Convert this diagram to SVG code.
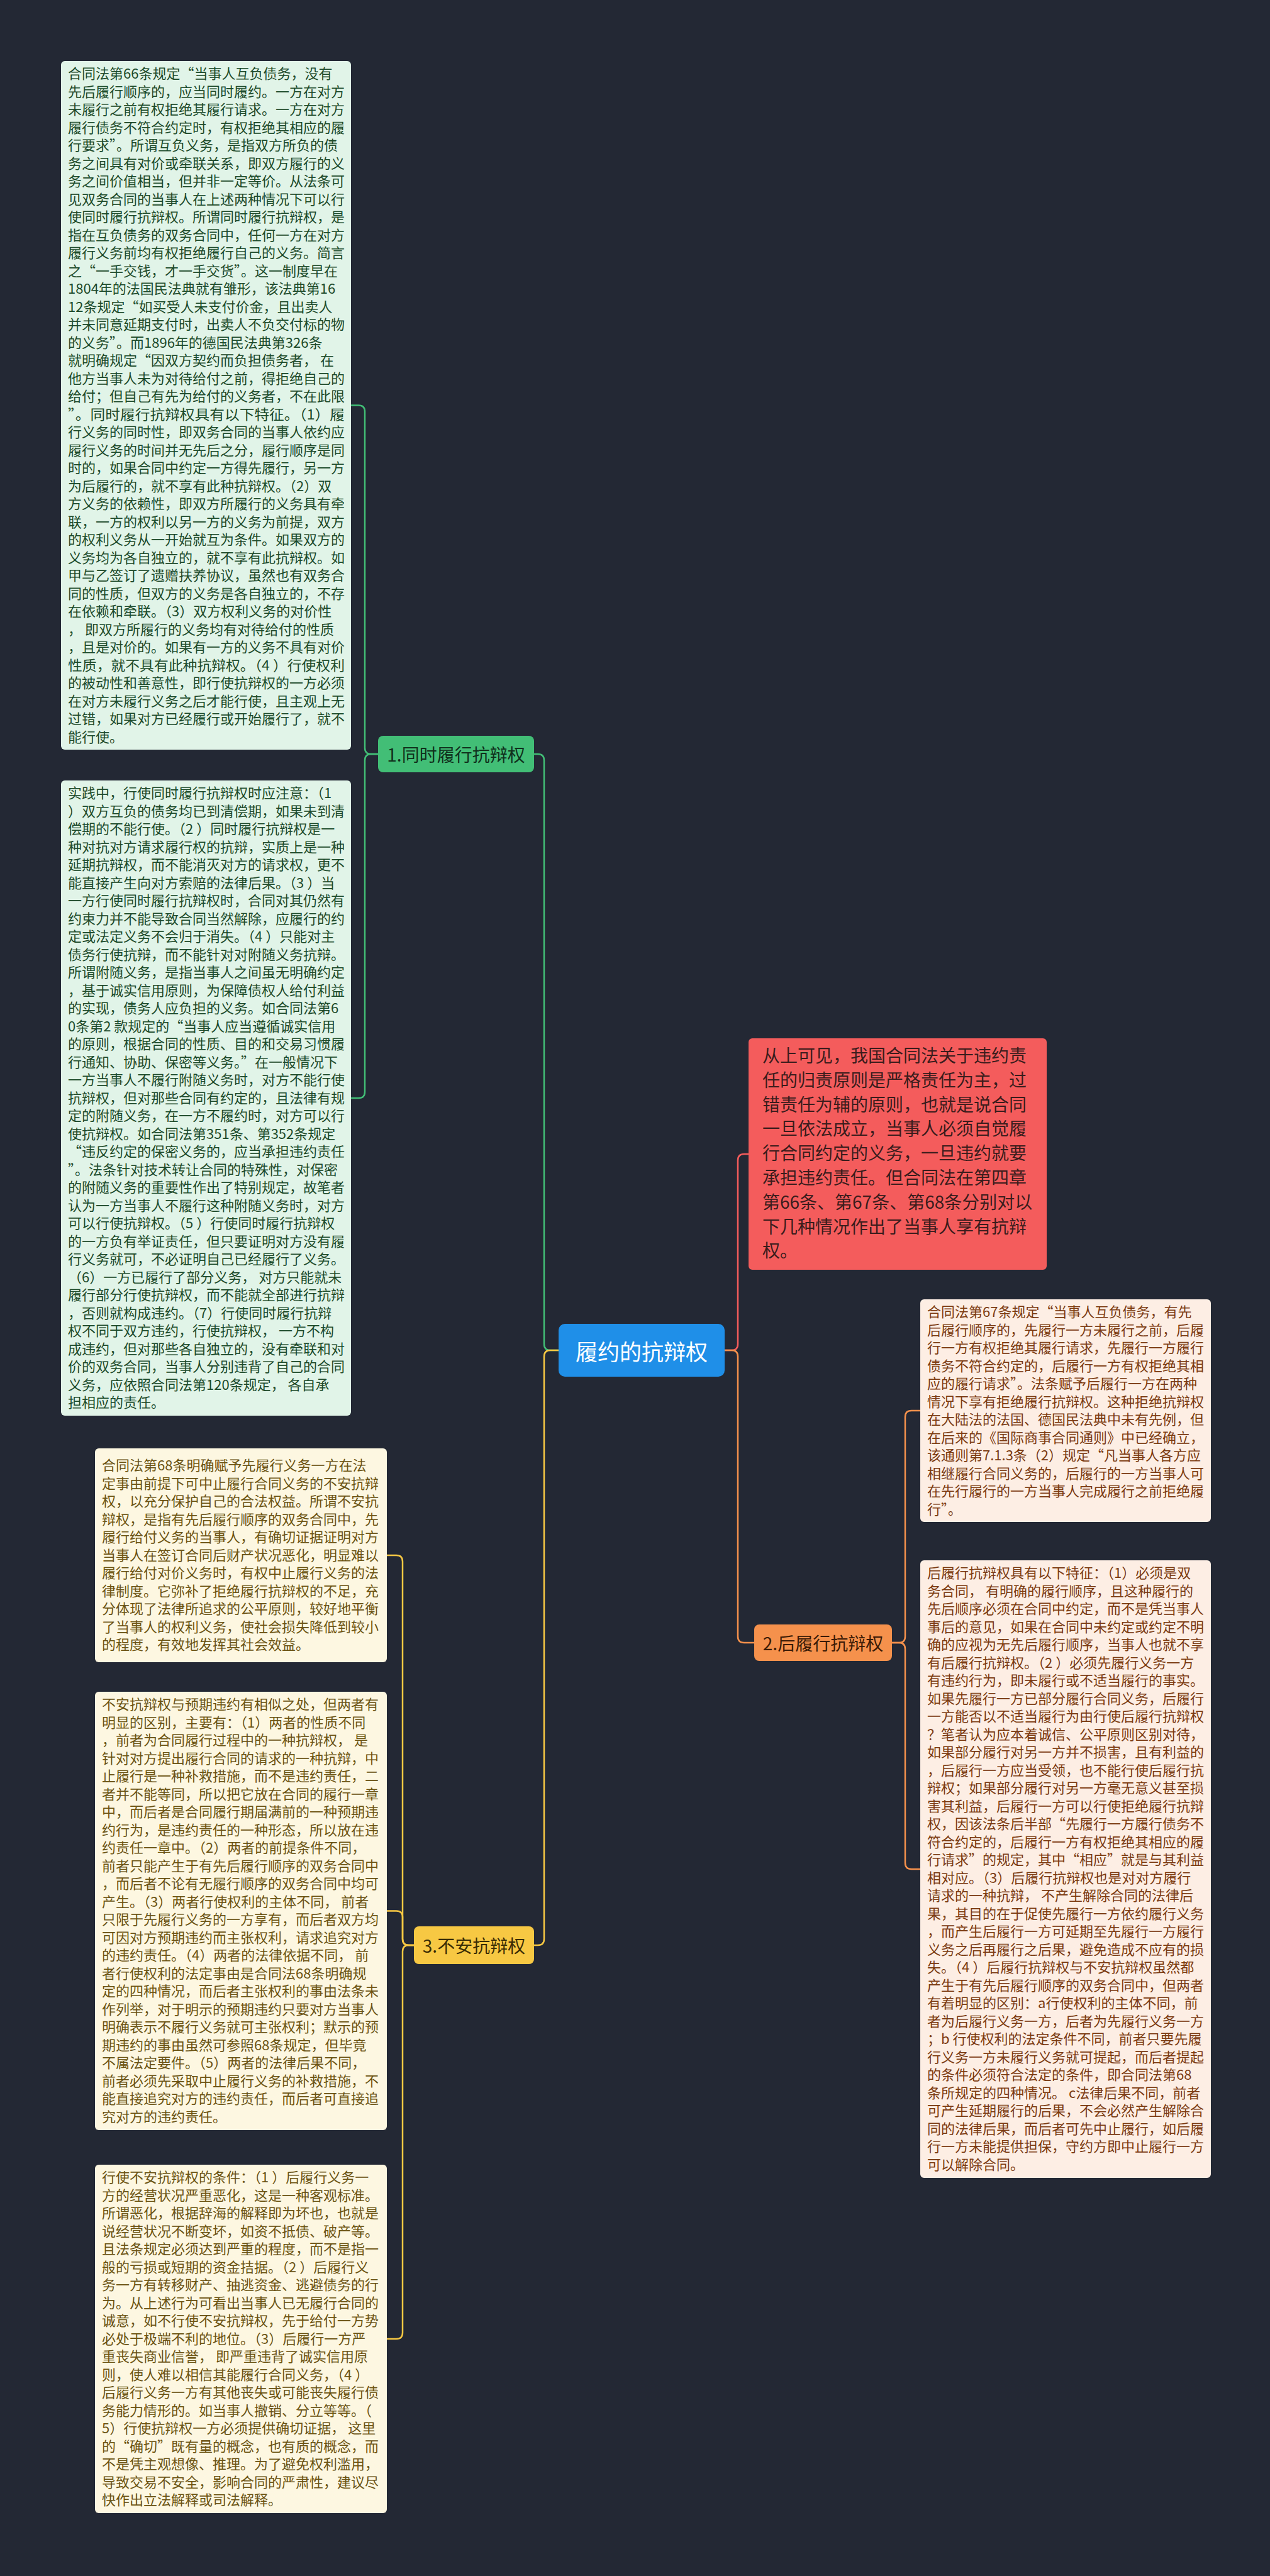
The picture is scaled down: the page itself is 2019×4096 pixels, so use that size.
<svg xmlns="http://www.w3.org/2000/svg" width="2019" height="4096" viewBox="0 0 2019 4096">
<style>
text{font-family:"Noto Sans CJK SC","Noto Sans",sans-serif;}
.tg{font-size:22px;fill:#1c4a2a;}
.to{font-size:22px;fill:#7b3a10;}
.ty{font-size:22px;fill:#6b5312;}
.tr{font-size:28px;fill:#3a1c1c;}
.bg1{fill:#e1f4e8;}
.bo{fill:#fdeee4;}
.by{fill:#fdf7e1;}
.br{fill:#f45c5c;}
.nt{font-size:28px;text-anchor:middle;dominant-baseline:central;}
.c{fill:none;stroke-width:2.5;}
</style>
<rect x="0" y="0" width="2019" height="4096" fill="#232834"/>
<g id="connectors">
<path class="c" stroke="#42be76" d="M888 2147H875Q865 2147 865 2137V1209Q865 1199 855 1199H849"/>
<path class="c" stroke="#f7c843" d="M888 2147H875Q865 2147 865 2157V3083Q865 3093 855 3093H849"/>
<path class="c" stroke="#f45c5c" d="M1152 2147H1163Q1173 2147 1173 2137V1845Q1173 1835 1183 1835H1190"/>
<path class="c" stroke="#f5914c" d="M1152 2147H1163Q1173 2147 1173 2157V2602Q1173 2612 1183 2612H1199"/>
<path class="c" stroke="#42be76" d="M601 1199H590Q580 1199 580 1189V654.5Q580 644.5 570 644.5H558"/>
<path class="c" stroke="#42be76" d="M601 1199H590Q580 1199 580 1209V1736Q580 1746 570 1746H558"/>
<path class="c" stroke="#f5914c" d="M1418 2612H1429Q1439 2612 1439 2602V2253Q1439 2243 1449 2243H1463"/>
<path class="c" stroke="#f5914c" d="M1418 2612H1429Q1439 2612 1439 2622V2962Q1439 2972 1449 2972H1463"/>
<path class="c" stroke="#f7c843" d="M658 3093H650Q640 3093 640 3083V2483Q640 2473 630 2473H615"/>
<path class="c" stroke="#f7c843" d="M658 3093H650Q640 3093 640 3083V3048.5Q640 3038.5 630 3038.5H615"/>
<path class="c" stroke="#f7c843" d="M658 3093H650Q640 3093 640 3103V3709Q640 3719 630 3719H615"/>
</g>
<g id="center">
<rect x="888" y="2105" width="264" height="84" rx="10" fill="#1f8fe8"/>
<text class="nt" x="1020" y="2147" style="font-size:35px;fill:#ffffff">履约的抗辩权</text>
</g>
<g id="node1">
<rect x="601" y="1170" width="248" height="58" rx="8" fill="#42be76"/>
<text class="nt" x="725" y="1199" fill="#10301c">1.同时履行抗辩权</text>
</g>
<g id="node2">
<rect x="1199" y="2583" width="219" height="58" rx="8" fill="#f5914c"/>
<text class="nt" x="1308.5" y="2612" fill="#3a1a06">2.后履行抗辩权</text>
</g>
<g id="node3">
<rect x="658" y="3063" width="191" height="60" rx="8" fill="#f7c843"/>
<text class="nt" x="753.5" y="3093" fill="#3a2d05">3.不安抗辩权</text>
</g>
<g id="box1">
<rect class="bg1" x="97" y="97" width="461" height="1095" rx="6"/>
<text class="tg" x="108" y="125">
<tspan x="108" dy="0">合同法第66条规定“当事人互负债务，没有</tspan>
<tspan x="108" dy="28.5">先后履行顺序的，应当同时履约。一方在对方</tspan>
<tspan x="108" dy="28.5">未履行之前有权拒绝其履行请求。一方在对方</tspan>
<tspan x="108" dy="28.5">履行债务不符合约定时，有权拒绝其相应的履</tspan>
<tspan x="108" dy="28.5">行要求”。所谓互负义务，是指双方所负的债</tspan>
<tspan x="108" dy="28.5">务之间具有对价或牵联关系，即双方履行的义</tspan>
<tspan x="108" dy="28.5">务之间价值相当，但并非一定等价。从法条可</tspan>
<tspan x="108" dy="28.5">见双务合同的当事人在上述两种情况下可以行</tspan>
<tspan x="108" dy="28.5">使同时履行抗辩权。所谓同时履行抗辩权，是</tspan>
<tspan x="108" dy="28.5">指在互负债务的双务合同中，任何一方在对方</tspan>
<tspan x="108" dy="28.5">履行义务前均有权拒绝履行自己的义务。简言</tspan>
<tspan x="108" dy="28.5">之“一手交钱，才一手交货”。这一制度早在</tspan>
<tspan x="108" dy="28.5">1804年的法国民法典就有雏形，该法典第16</tspan>
<tspan x="108" dy="28.5">12条规定“如买受人未支付价金，且出卖人</tspan>
<tspan x="108" dy="28.5">并未同意延期支付时，出卖人不负交付标的物</tspan>
<tspan x="108" dy="28.5">的义务”。而1896年的德国民法典第326条</tspan>
<tspan x="108" dy="28.5">就明确规定“因双方契约而负担债务者， 在</tspan>
<tspan x="108" dy="28.5">他方当事人未为对待给付之前，得拒绝自己的</tspan>
<tspan x="108" dy="28.5">给付；但自己有先为给付的义务者，不在此限</tspan>
<tspan x="108" dy="28.5" textLength="440" lengthAdjust="spacingAndGlyphs">”。同时履行抗辩权具有以下特征。（1）履</tspan>
<tspan x="108" dy="28.5">行义务的同时性，即双务合同的当事人依约应</tspan>
<tspan x="108" dy="28.5">履行义务的时间并无先后之分，履行顺序是同</tspan>
<tspan x="108" dy="28.5">时的，如果合同中约定一方得先履行，另一方</tspan>
<tspan x="108" dy="28.5">为后履行的，就不享有此种抗辩权。（2）双</tspan>
<tspan x="108" dy="28.5">方义务的依赖性，即双方所履行的义务具有牵</tspan>
<tspan x="108" dy="28.5">联，一方的权利以另一方的义务为前提，双方</tspan>
<tspan x="108" dy="28.5">的权利义务从一开始就互为条件。如果双方的</tspan>
<tspan x="108" dy="28.5">义务均为各自独立的，就不享有此抗辩权。如</tspan>
<tspan x="108" dy="28.5">甲与乙签订了遗赠扶养协议，虽然也有双务合</tspan>
<tspan x="108" dy="28.5">同的性质，但双方的义务是各自独立的，不存</tspan>
<tspan x="108" dy="28.5">在依赖和牵联。（3）双方权利义务的对价性</tspan>
<tspan x="108" dy="28.5">， 即双方所履行的义务均有对待给付的性质</tspan>
<tspan x="108" dy="28.5">，且是对价的。如果有一方的义务不具有对价</tspan>
<tspan x="108" dy="28.5" textLength="440" lengthAdjust="spacingAndGlyphs">性质，就不具有此种抗辩权。（4 ）行使权利</tspan>
<tspan x="108" dy="28.5">的被动性和善意性，即行使抗辩权的一方必须</tspan>
<tspan x="108" dy="28.5">在对方未履行义务之后才能行使，且主观上无</tspan>
<tspan x="108" dy="28.5">过错，如果对方已经履行或开始履行了，就不</tspan>
<tspan x="108" dy="28.5">能行使。</tspan>
</text>
</g>
<g id="box2">
<rect class="bg1" x="97" y="1241" width="461" height="1010" rx="6"/>
<text class="tg" x="108" y="1269">
<tspan x="108" dy="0">实践中，行使同时履行抗辩权时应注意：（1</tspan>
<tspan x="108" dy="28.5">）双方互负的债务均已到清偿期，如果未到清</tspan>
<tspan x="108" dy="28.5">偿期的不能行使。（2 ）同时履行抗辩权是一</tspan>
<tspan x="108" dy="28.5">种对抗对方请求履行权的抗辩，实质上是一种</tspan>
<tspan x="108" dy="28.5">延期抗辩权，而不能消灭对方的请求权，更不</tspan>
<tspan x="108" dy="28.5">能直接产生向对方索赔的法律后果。（3 ）当</tspan>
<tspan x="108" dy="28.5">一方行使同时履行抗辩权时，合同对其仍然有</tspan>
<tspan x="108" dy="28.5">约束力并不能导致合同当然解除，应履行的约</tspan>
<tspan x="108" dy="28.5">定或法定义务不会归于消失。（4 ）只能对主</tspan>
<tspan x="108" dy="28.5">债务行使抗辩，而不能针对对附随义务抗辩。</tspan>
<tspan x="108" dy="28.5">所谓附随义务，是指当事人之间虽无明确约定</tspan>
<tspan x="108" dy="28.5">，基于诚实信用原则，为保障债权人给付利益</tspan>
<tspan x="108" dy="28.5">的实现，债务人应负担的义务。如合同法第6</tspan>
<tspan x="108" dy="28.5">0条第2 款规定的“当事人应当遵循诚实信用</tspan>
<tspan x="108" dy="28.5">的原则，根据合同的性质、目的和交易习惯履</tspan>
<tspan x="108" dy="28.5">行通知、协助、保密等义务。”在一般情况下</tspan>
<tspan x="108" dy="28.5">一方当事人不履行附随义务时，对方不能行使</tspan>
<tspan x="108" dy="28.5">抗辩权，但对那些合同有约定的，且法律有规</tspan>
<tspan x="108" dy="28.5">定的附随义务，在一方不履约时，对方可以行</tspan>
<tspan x="108" dy="28.5">使抗辩权。如合同法第351条、第352条规定</tspan>
<tspan x="108" dy="28.5">“违反约定的保密义务的，应当承担违约责任</tspan>
<tspan x="108" dy="28.5">”。法条针对技术转让合同的特殊性，对保密</tspan>
<tspan x="108" dy="28.5">的附随义务的重要性作出了特别规定，故笔者</tspan>
<tspan x="108" dy="28.5">认为一方当事人不履行这种附随义务时，对方</tspan>
<tspan x="108" dy="28.5">可以行使抗辩权。（5 ）行使同时履行抗辩权</tspan>
<tspan x="108" dy="28.5">的一方负有举证责任，但只要证明对方没有履</tspan>
<tspan x="108" dy="28.5">行义务就可，不必证明自己已经履行了义务。</tspan>
<tspan x="108" dy="28.5">（6）一方已履行了部分义务， 对方只能就未</tspan>
<tspan x="108" dy="28.5">履行部分行使抗辩权，而不能就全部进行抗辩</tspan>
<tspan x="108" dy="28.5">，否则就构成违约。（7）行使同时履行抗辩</tspan>
<tspan x="108" dy="28.5">权不同于双方违约，行使抗辩权， 一方不构</tspan>
<tspan x="108" dy="28.5">成违约，但对那些各自独立的，没有牵联和对</tspan>
<tspan x="108" dy="28.5">价的双务合同，当事人分别违背了自己的合同</tspan>
<tspan x="108" dy="28.5">义务，应依照合同法第120条规定， 各自承</tspan>
<tspan x="108" dy="28.5">担相应的责任。</tspan>
</text>
</g>
<g id="box-red">
<rect class="br" x="1190" y="1651" width="474" height="368" rx="6"/>
<text class="tr" x="1212" y="1689">
<tspan x="1212" dy="0">从上可见，我国合同法关于违约责</tspan>
<tspan x="1212" dy="38.8">任的归责原则是严格责任为主，过</tspan>
<tspan x="1212" dy="38.8">错责任为辅的原则，也就是说合同</tspan>
<tspan x="1212" dy="38.8">一旦依法成立，当事人必须自觉履</tspan>
<tspan x="1212" dy="38.8">行合同约定的义务，一旦违约就要</tspan>
<tspan x="1212" dy="38.8">承担违约责任。但合同法在第四章</tspan>
<tspan x="1212" dy="38.8">第66条、第67条、第68条分别对以</tspan>
<tspan x="1212" dy="38.8">下几种情况作出了当事人享有抗辩</tspan>
<tspan x="1212" dy="38.8">权。</tspan>
</text>
</g>
<g id="box-r1">
<rect class="bo" x="1463" y="2066" width="462" height="354" rx="6"/>
<text class="to" x="1474" y="2094">
<tspan x="1474" dy="0">合同法第67条规定“当事人互负债务，有先</tspan>
<tspan x="1474" dy="28.5">后履行顺序的，先履行一方未履行之前，后履</tspan>
<tspan x="1474" dy="28.5">行一方有权拒绝其履行请求，先履行一方履行</tspan>
<tspan x="1474" dy="28.5">债务不符合约定的，后履行一方有权拒绝其相</tspan>
<tspan x="1474" dy="28.5">应的履行请求”。法条赋予后履行一方在两种</tspan>
<tspan x="1474" dy="28.5">情况下享有拒绝履行抗辩权。这种拒绝抗辩权</tspan>
<tspan x="1474" dy="28.5">在大陆法的法国、德国民法典中未有先例，但</tspan>
<tspan x="1474" dy="28.5">在后来的《国际商事合同通则》中已经确立，</tspan>
<tspan x="1474" dy="28.5">该通则第7.1.3条（2）规定“凡当事人各方应</tspan>
<tspan x="1474" dy="28.5">相继履行合同义务的，后履行的一方当事人可</tspan>
<tspan x="1474" dy="28.5">在先行履行的一方当事人完成履行之前拒绝履</tspan>
<tspan x="1474" dy="28.5">行”。</tspan>
</text>
</g>
<g id="box-r2">
<rect class="bo" x="1463" y="2481" width="462" height="982" rx="6"/>
<text class="to" x="1474" y="2509">
<tspan x="1474" dy="0">后履行抗辩权具有以下特征：（1）必须是双</tspan>
<tspan x="1474" dy="28.5">务合同， 有明确的履行顺序，且这种履行的</tspan>
<tspan x="1474" dy="28.5">先后顺序必须在合同中约定，而不是凭当事人</tspan>
<tspan x="1474" dy="28.5">事后的意见，如果在合同中未约定或约定不明</tspan>
<tspan x="1474" dy="28.5">确的应视为无先后履行顺序，当事人也就不享</tspan>
<tspan x="1474" dy="28.5">有后履行抗辩权。（2 ）必须先履行义务一方</tspan>
<tspan x="1474" dy="28.5">有违约行为，即未履行或不适当履行的事实。</tspan>
<tspan x="1474" dy="28.5">如果先履行一方已部分履行合同义务，后履行</tspan>
<tspan x="1474" dy="28.5">一方能否以不适当履行为由行使后履行抗辩权</tspan>
<tspan x="1474" dy="28.5">？笔者认为应本着诚信、公平原则区别对待，</tspan>
<tspan x="1474" dy="28.5">如果部分履行对另一方并不损害，且有利益的</tspan>
<tspan x="1474" dy="28.5">，后履行一方应当受领，也不能行使后履行抗</tspan>
<tspan x="1474" dy="28.5">辩权；如果部分履行对另一方毫无意义甚至损</tspan>
<tspan x="1474" dy="28.5">害其利益，后履行一方可以行使拒绝履行抗辩</tspan>
<tspan x="1474" dy="28.5">权，因该法条后半部“先履行一方履行债务不</tspan>
<tspan x="1474" dy="28.5">符合约定的，后履行一方有权拒绝其相应的履</tspan>
<tspan x="1474" dy="28.5">行请求”的规定，其中“相应”就是与其利益</tspan>
<tspan x="1474" dy="28.5">相对应。（3）后履行抗辩权也是对对方履行</tspan>
<tspan x="1474" dy="28.5">请求的一种抗辩， 不产生解除合同的法律后</tspan>
<tspan x="1474" dy="28.5">果，其目的在于促使先履行一方依约履行义务</tspan>
<tspan x="1474" dy="28.5">，而产生后履行一方可延期至先履行一方履行</tspan>
<tspan x="1474" dy="28.5">义务之后再履行之后果，避免造成不应有的损</tspan>
<tspan x="1474" dy="28.5">失。（4 ）后履行抗辩权与不安抗辩权虽然都</tspan>
<tspan x="1474" dy="28.5">产生于有先后履行顺序的双务合同中，但两者</tspan>
<tspan x="1474" dy="28.5">有着明显的区别：a行使权利的主体不同，前</tspan>
<tspan x="1474" dy="28.5">者为后履行义务一方，后者为先履行义务一方</tspan>
<tspan x="1474" dy="28.5">；b 行使权利的法定条件不同，前者只要先履</tspan>
<tspan x="1474" dy="28.5">行义务一方未履行义务就可提起，而后者提起</tspan>
<tspan x="1474" dy="28.5">的条件必须符合法定的条件，即合同法第68</tspan>
<tspan x="1474" dy="28.5">条所规定的四种情况。 c法律后果不同，前者</tspan>
<tspan x="1474" dy="28.5">可产生延期履行的后果，不会必然产生解除合</tspan>
<tspan x="1474" dy="28.5">同的法律后果，而后者可先中止履行，如后履</tspan>
<tspan x="1474" dy="28.5">行一方未能提供担保，守约方即中止履行一方</tspan>
<tspan x="1474" dy="28.5">可以解除合同。</tspan>
</text>
</g>
<g id="box3">
<rect class="by" x="151" y="2303" width="464" height="340" rx="6"/>
<text class="ty" x="162" y="2338">
<tspan x="162" dy="0">合同法第68条明确赋予先履行义务一方在法</tspan>
<tspan x="162" dy="28.5">定事由前提下可中止履行合同义务的不安抗辩</tspan>
<tspan x="162" dy="28.5">权，以充分保护自己的合法权益。所谓不安抗</tspan>
<tspan x="162" dy="28.5">辩权，是指有先后履行顺序的双务合同中，先</tspan>
<tspan x="162" dy="28.5">履行给付义务的当事人，有确切证据证明对方</tspan>
<tspan x="162" dy="28.5">当事人在签订合同后财产状况恶化，明显难以</tspan>
<tspan x="162" dy="28.5">履行给付对价义务时，有权中止履行义务的法</tspan>
<tspan x="162" dy="28.5">律制度。它弥补了拒绝履行抗辩权的不足，充</tspan>
<tspan x="162" dy="28.5">分体现了法律所追求的公平原则，较好地平衡</tspan>
<tspan x="162" dy="28.5">了当事人的权利义务，使社会损失降低到较小</tspan>
<tspan x="162" dy="28.5">的程度，有效地发挥其社会效益。</tspan>
</text>
</g>
<g id="box4">
<rect class="by" x="151" y="2690" width="464" height="697" rx="6"/>
<text class="ty" x="162" y="2718">
<tspan x="162" dy="0">不安抗辩权与预期违约有相似之处，但两者有</tspan>
<tspan x="162" dy="28.5">明显的区别，主要有：（1）两者的性质不同</tspan>
<tspan x="162" dy="28.5">，前者为合同履行过程中的一种抗辩权， 是</tspan>
<tspan x="162" dy="28.5">针对对方提出履行合同的请求的一种抗辩，中</tspan>
<tspan x="162" dy="28.5">止履行是一种补救措施，而不是违约责任，二</tspan>
<tspan x="162" dy="28.5">者并不能等同，所以把它放在合同的履行一章</tspan>
<tspan x="162" dy="28.5">中，而后者是合同履行期届满前的一种预期违</tspan>
<tspan x="162" dy="28.5">约行为，是违约责任的一种形态，所以放在违</tspan>
<tspan x="162" dy="28.5">约责任一章中。（2）两者的前提条件不同，</tspan>
<tspan x="162" dy="28.5">前者只能产生于有先后履行顺序的双务合同中</tspan>
<tspan x="162" dy="28.5">，而后者不论有无履行顺序的双务合同中均可</tspan>
<tspan x="162" dy="28.5">产生。（3）两者行使权利的主体不同， 前者</tspan>
<tspan x="162" dy="28.5">只限于先履行义务的一方享有，而后者双方均</tspan>
<tspan x="162" dy="28.5">可因对方预期违约而主张权利，请求追究对方</tspan>
<tspan x="162" dy="28.5">的违约责任。（4）两者的法律依据不同， 前</tspan>
<tspan x="162" dy="28.5">者行使权利的法定事由是合同法68条明确规</tspan>
<tspan x="162" dy="28.5">定的四种情况，而后者主张权利的事由法条未</tspan>
<tspan x="162" dy="28.5">作列举，对于明示的预期违约只要对方当事人</tspan>
<tspan x="162" dy="28.5">明确表示不履行义务就可主张权利；默示的预</tspan>
<tspan x="162" dy="28.5">期违约的事由虽然可参照68条规定，但毕竟</tspan>
<tspan x="162" dy="28.5">不属法定要件。（5）两者的法律后果不同，</tspan>
<tspan x="162" dy="28.5">前者必须先采取中止履行义务的补救措施，不</tspan>
<tspan x="162" dy="28.5">能直接追究对方的违约责任，而后者可直接追</tspan>
<tspan x="162" dy="28.5">究对方的违约责任。</tspan>
</text>
</g>
<g id="box5">
<rect class="by" x="151" y="3442" width="464" height="554" rx="6"/>
<text class="ty" x="162" y="3470">
<tspan x="162" dy="0">行使不安抗辩权的条件：（1 ）后履行义务一</tspan>
<tspan x="162" dy="28.5">方的经营状况严重恶化，这是一种客观标准。</tspan>
<tspan x="162" dy="28.5">所谓恶化，根据辞海的解释即为坏也，也就是</tspan>
<tspan x="162" dy="28.5">说经营状况不断变坏，如资不抵债、破产等。</tspan>
<tspan x="162" dy="28.5">且法条规定必须达到严重的程度，而不是指一</tspan>
<tspan x="162" dy="28.5">般的亏损或短期的资金拮据。（2 ）后履行义</tspan>
<tspan x="162" dy="28.5">务一方有转移财产、抽逃资金、逃避债务的行</tspan>
<tspan x="162" dy="28.5">为。从上述行为可看出当事人已无履行合同的</tspan>
<tspan x="162" dy="28.5">诚意，如不行使不安抗辩权，先于给付一方势</tspan>
<tspan x="162" dy="28.5">必处于极端不利的地位。（3）后履行一方严</tspan>
<tspan x="162" dy="28.5">重丧失商业信誉， 即严重违背了诚实信用原</tspan>
<tspan x="162" dy="28.5">则，使人难以相信其能履行合同义务，（4 ）</tspan>
<tspan x="162" dy="28.5">后履行义务一方有其他丧失或可能丧失履行债</tspan>
<tspan x="162" dy="28.5">务能力情形的。如当事人撤销、分立等等。（</tspan>
<tspan x="162" dy="28.5">5）行使抗辩权一方必须提供确切证据， 这里</tspan>
<tspan x="162" dy="28.5">的“确切”既有量的概念，也有质的概念，而</tspan>
<tspan x="162" dy="28.5">不是凭主观想像、推理。为了避免权利滥用，</tspan>
<tspan x="162" dy="28.5">导致交易不安全，影响合同的严肃性，建议尽</tspan>
<tspan x="162" dy="28.5">快作出立法解释或司法解释。</tspan>
</text>
</g>
</svg>
